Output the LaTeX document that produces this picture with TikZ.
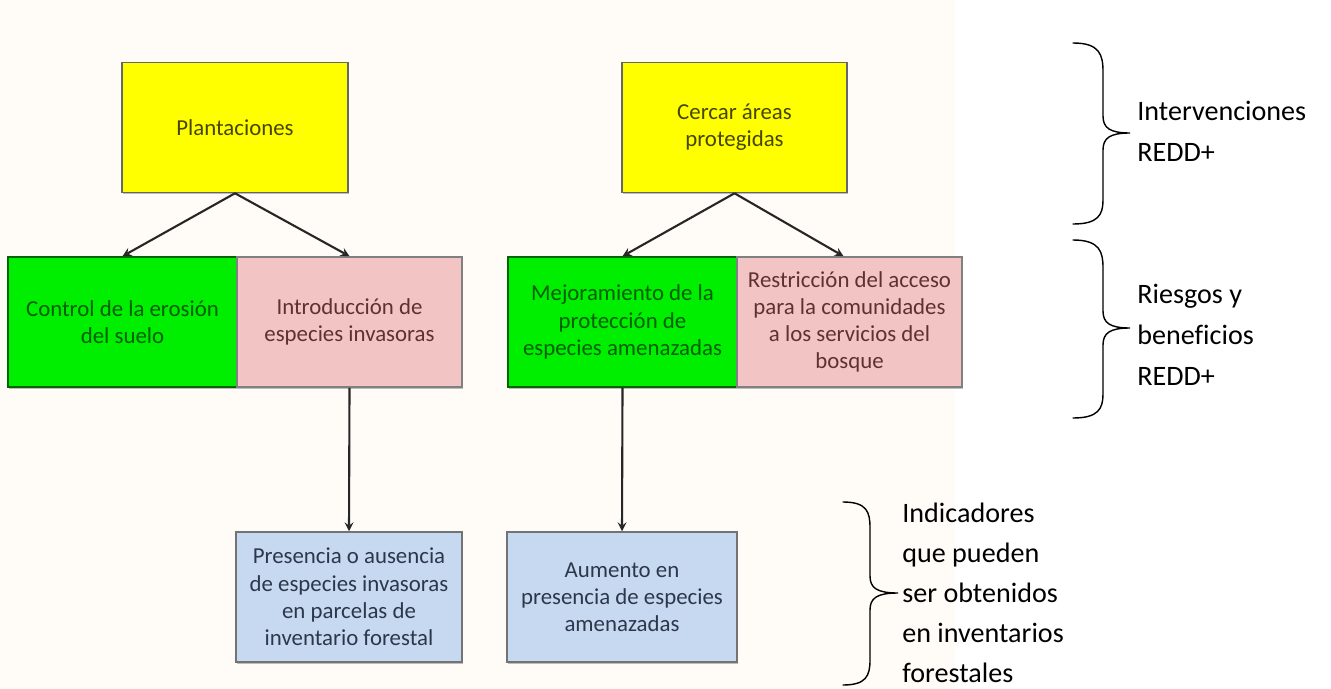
\documentclass[tikz,border=0pt]{standalone}
\usepackage{fontspec}
\setmainfont{Carlito}[Ligatures=CommonOff]
\usetikzlibrary{arrows,shadows}
\definecolor{cream}{RGB}{255,251,246}
\definecolor{amarillo}{RGB}{255,255,0}
\definecolor{verde}{RGB}{0,238,0}
\definecolor{rosa}{RGB}{242,196,196}
\definecolor{azul}{RGB}{198,217,241}
\begin{document}
\begin{tikzpicture}[x=0.02cm,y=-0.02cm,
    box/.style={rectangle, draw=black!60, line width=0.9pt, text centered, align=center,
        minimum height=2.6cm, inner sep=2pt, font=\fontsize{13}{15.5}\selectfont,
        drop shadow={shadow xshift=0.6pt, shadow yshift=-0.9pt, opacity=0.5}},
    intbox/.style={box, fill=amarillo, text={rgb,255:red,70;green,70;blue,0}},
    benbox/.style={box, fill=verde, draw={rgb,255:red,0;green,100;blue,0}, text={rgb,255:red,0;green,95;blue,0}},
    riskbox/.style={box, fill=rosa, draw=black!50, text={rgb,255:red,95;green,50;blue,50}},
    indbox/.style={box, fill=azul, draw=black!55, text={rgb,255:red,45;green,55;blue,75}},
    brace/.style={thick, black, line cap=round},
    bracetext/.style={anchor=west, align=left, inner sep=0pt, font=\fontsize{16}{23.5}\selectfont},
    arrow/.style={line width=1.2pt, ->, >=stealth, black!85}
]
\useasboundingbox (0,0) rectangle (1331,689);
\fill[cream] (0,0) rectangle (955,689);

% Intervenciones
\node[intbox, minimum width=4.52cm] (plant) at (235,127.5) {Plantaciones};
\node[intbox, minimum width=4.5cm] (cercar) at (734.5,127.5) {Cercar áreas\\protegidas};

% Riesgos y beneficios
\node[benbox, minimum width=4.58cm] (control) at (122.5,322) {Control de la erosión\\del suelo};
\node[riskbox, minimum width=4.5cm] (intro) at (349.5,322) {Introducción de\\especies invasoras};
\node[benbox, minimum width=4.58cm] (mejora) at (622.5,322) {Mejoramiento de la\\protección de\\especies amenazadas};
\node[riskbox, minimum width=4.5cm] (restr) at (849.5,322) {Restricción del acceso\\para la comunidades\\a los servicios del\\bosque};

% Indicadores
\node[indbox, minimum width=4.52cm] (presencia) at (349,597) {Presencia o ausencia\\de especies invasoras\\en parcelas de\\inventario forestal};
\node[indbox, minimum width=4.6cm] (aumento) at (622,597) {Aumento en\\presencia de especies\\amenazadas};

% Flechas
\draw[arrow] (plant.south) -- (control.north);
\draw[arrow] (plant.south) -- (intro.north);
\draw[arrow] (cercar.south) -- (mejora.north);
\draw[arrow] (cercar.south) -- ([xshift=-0.12cm]restr.north);
\draw[arrow] (intro.south) -- (presencia.north);
\draw[arrow] (mejora.south) -- (aumento.north);

% Llaves
\coordinate (tip1) at (1130,133);
\coordinate (tip2) at (1130,328);
\coordinate (tip3) at (898,593);
\draw[brace] (1073,43) .. controls (1100,43) and (1103,55) .. (1103,72) -- (1103,116)
    .. controls (1103,128) and (1110,133) .. (tip1)
    .. controls (1110,133) and (1103,138) .. (1103,150) -- (1103,200)
    .. controls (1103,215) and (1098,224) .. (1073,224);
\draw[brace] (1073,240) .. controls (1100,240) and (1103,252) .. (1103,268) -- (1103,311)
    .. controls (1103,323) and (1110,328) .. (tip2)
    .. controls (1110,328) and (1103,333) .. (1103,345) -- (1103,394)
    .. controls (1103,409) and (1098,418) .. (1073,418);
\draw[brace] (843,502) .. controls (867,502) and (870,512) .. (870,528) -- (870,576)
    .. controls (870,588) and (877,593) .. (tip3)
    .. controls (877,593) and (870,598) .. (870,610) -- (870,660)
    .. controls (870,676) and (866,685) .. (843,685);

\node[bracetext] (interv) at (1137,131) {Intervenciones\\REDD+};
\node[bracetext] (riesgos) at (1137,335) {Riesgos y\\beneficios\\REDD+};
\node[bracetext, font=\fontsize{16}{22.7}\selectfont] (indic) at (902,593) {Indicadores\\que pueden\\ser obtenidos\\en inventarios\\forestales};
\end{tikzpicture}
\end{document}
